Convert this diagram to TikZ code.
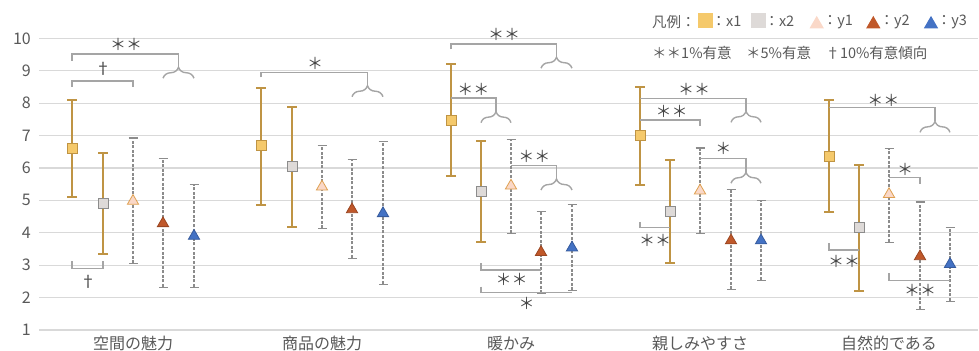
\documentclass[tikz,border=0pt]{standalone}
\usepackage{fontspec}
\setmainfont{Noto Sans CJK JP}
\usetikzlibrary{shapes.geometric,arrows.meta,decorations.pathreplacing}
\definecolor{testo}{HTML}{595959}
\definecolor{scuro}{HTML}{454545}
\definecolor{griglia}{HTML}{D9D9D9}
\definecolor{oro}{HTML}{BF9444}
\definecolor{giallo}{HTML}{F5C96B}
\definecolor{grigiochiaro}{HTML}{DEDAD8}
\definecolor{grigioscuro}{HTML}{8C8C8C}
\definecolor{rosa}{HTML}{FAD8C8}
\definecolor{arancio}{HTML}{DFA050}
\definecolor{ruggine}{HTML}{C0582A}
\definecolor{blu}{HTML}{4472C4}
\definecolor{linea}{HTML}{A5A5A5}

\begin{document}
\begin{tikzpicture}[x=1pt,y=32.4pt,font=\fontsize{16}{19}\selectfont,
    grid/.style={griglia,line width=1.3pt},
    valore/.style={testo,anchor=east,inner sep=0pt,xshift=-7.5pt},
    barX/.style={oro,line width=2pt,arrows={Bar[width=10pt]-Bar[width=10pt]}},
    barY/.style={grigioscuro,line width=1.3pt,dash pattern=on 3pt off 1.6pt,
                 arrows={Bar[width=9pt]-Bar[width=9pt]}},
    mX1/.style={rectangle,draw=oro,fill=giallo,line width=1pt,minimum size=10pt,inner sep=0pt},
    mX2/.style={rectangle,draw=grigioscuro,fill=grigiochiaro,line width=1pt,minimum size=10pt,inner sep=0pt},
    mTri/.style={regular polygon,regular polygon sides=3,minimum size=13pt,inner sep=0pt,line width=0.8pt},
    mY1/.style={mTri,draw=arancio,fill=rosa},
    mY2/.style={mTri,draw=ruggine!80!black,fill=ruggine},
    mY3/.style={mTri,draw=blu!80!black,fill=blu},
    braccio/.style={linea,line width=1.4pt},
    graffa/.style={braccio,decorate,decoration={brace,amplitude=11pt}},
    segno/.style={scuro,inner sep=0pt},
    leg/.style={testo,anchor=west,inner sep=0pt,font=\fontsize{14.5}{16}\selectfont},
    legQ/.style={rectangle,minimum size=14.5pt,inner sep=0pt},
    legT/.style={regular polygon,regular polygon sides=3,minimum size=16.5pt,inner sep=0pt}]
  \useasboundingbox (0,0.352) rectangle (979,11.185);
  % griglia e valori dell'asse
  \draw[grid] (39,1) node[valore] (v1) {1} -- (978,1);
  \draw[grid] (39,2) node[valore] (v2) {2} -- (978,2);
  \draw[grid] (39,3) node[valore] (v3) {3} -- (978,3);
  \draw[grid] (39,4) node[valore] (v4) {4} -- (978,4);
  \draw[grid] (39,5) node[valore] (v5) {5} -- (978,5);
  \draw[grid] (39,6) node[valore] (v6) {6} -- (978,6);
  \draw[grid] (39,7) node[valore] (v7) {7} -- (978,7);
  \draw[grid] (39,8) node[valore] (v8) {8} -- (978,8);
  \draw[grid] (39,9) node[valore] (v9) {9} -- (978,9);
  \draw[grid] (39,10) node[valore] (v10) {10} -- (978,10);
  % categorie
  \node[testo] (c1) at (133,0.59) {空間の魅力};
  \node[testo] (c2) at (322,0.59) {商品の魅力};
  \node[testo] (c3) at (511,0.59) {暖かみ};
  \node[testo] (c4) at (700,0.59) {親しみやすさ};
  \node[testo] (c5) at (889,0.59) {自然的である};
  % barre d'errore
  \draw[barX] (72,5.06) -- (72,8.14);   % 空間の魅力
  \draw[barX] (103,3.31) -- (103,6.49);
  \draw[barY] (133,3.03) -- (133,6.95);
  \draw[barY] (163,2.30) -- (163,6.31);
  \draw[barY] (194,2.30) -- (194,5.52);
  \draw[barX] (261,4.84) -- (261,8.51); % 商品の魅力
  \draw[barX] (292,4.15) -- (292,7.92);
  \draw[barY] (322,4.11) -- (322,6.72);
  \draw[barY] (352,3.19) -- (352,6.28);
  \draw[barY] (383,2.39) -- (383,6.83);
  \draw[barX] (451,5.71) -- (451,9.23); % 暖かみ
  \draw[barX] (481,3.70) -- (481,6.86);
  \draw[barY] (511,3.96) -- (511,6.90);
  \draw[barY] (541,2.10) -- (541,4.67);
  \draw[barY] (572,2.20) -- (572,4.90);
  \draw[barX] (640,5.43) -- (640,8.52); % 親しみやすさ
  \draw[barX] (670,3.05) -- (670,6.28);
  \draw[barY] (700,3.95) -- (700,6.64);
  \draw[barY] (731,2.23) -- (731,5.35);
  \draw[barY] (761,2.51) -- (761,5.02);
  \draw[barX] (829,4.60) -- (829,8.13); % 自然的である
  \draw[barX] (859,2.16) -- (859,6.12);
  \draw[barY] (889,3.69) -- (889,6.62);
  \draw[barY] (920,1.62) -- (920,4.97);
  \draw[barY] (950,1.87) -- (950,4.19);
  % medie
  \node[mX1] (a1) at (72,6.61) {};
  \node[mX2] (a2) at (103,4.91) {};
  \node[mY1] (a3) at (133,4.98) {};
  \node[mY2] (a4) at (163,4.29) {};
  \node[mY3] (a5) at (194,3.90) {};
  \node[mX1] (b1) at (261,6.68) {};
  \node[mX2] (b2) at (292,6.04) {};
  \node[mY1] (b3) at (322,5.42) {};
  \node[mY2] (b4) at (352,4.72) {};
  \node[mY3] (b5) at (383,4.60) {};
  \node[mX1] (d1) at (451,7.46) {};
  \node[mX2] (d2) at (481,5.28) {};
  \node[mY1] (d3) at (511,5.45) {};
  \node[mY2] (d4) at (541,3.40) {};
  \node[mY3] (d5) at (572,3.54) {};
  \node[mX1] (e1) at (640,6.99) {};
  \node[mX2] (e2) at (670,4.67) {};
  \node[mY1] (e3) at (700,5.30) {};
  \node[mY2] (e4) at (731,3.76) {};
  \node[mY3] (e5) at (761,3.76) {};
  \node[mX1] (f1) at (829,6.37) {};
  \node[mX2] (f2) at (859,4.17) {};
  \node[mY1] (f3) at (889,5.19) {};
  \node[mY2] (f4) at (920,3.27) {};
  \node[mY3] (f5) at (950,3.03) {};
  % 空間の魅力: confronti
  \draw[braccio] (72,9.31) |- (178.5,9.52) -- (178.5,9.11);
  \draw[graffa] (163,8.77) -- (194,8.77);
  \node[segno] (s1) at (126,9.80) {＊＊};
  \draw[braccio] (72,8.51) |- (133,8.69) -- (133,8.51);
  \node[segno] (s2) at (103,9.06) {†};
  \draw[braccio] (72,3.12) |- (103,2.90) -- (103,3.12);
  \node[segno] (s3) at (88,2.49) {†};
  % 商品の魅力
  \draw[braccio] (261,8.80) |- (367.5,8.95) -- (367.5,8.54);
  \draw[graffa] (352,8.20) -- (383,8.20);
  \node[segno] (s4) at (315,9.23) {＊};
  % 暖かみ
  \draw[braccio] (451,9.66) |- (556.5,9.83) -- (556.5,9.42);
  \draw[graffa] (541,9.08) -- (572,9.08);
  \node[segno] (s5) at (504,10.13) {＊＊};
  \draw[braccio] (451,8.16) -- (496,8.16) -- (496,7.74);
  \draw[graffa] (481,7.40) -- (511,7.40);
  \node[segno] (s6) at (473.3,8.41) {＊＊};
  \draw[braccio] (511,6.07) -- (556.5,6.07) -- (556.5,5.66);
  \draw[graffa] (541,5.32) -- (572,5.32);
  \node[segno] (s7) at (534.3,6.35) {＊＊};
  \draw[braccio] (481,3.06) |- (541,2.85);
  \node[segno] (s8) at (511.7,2.56) {＊＊};
  \draw[braccio] (481,2.34) |- (572,2.16);
  \node[segno] (s9) at (526.7,1.82) {＊};
  % 親しみやすさ
  \draw[braccio] (640,8.15) -- (746,8.15) -- (746,7.75);
  \draw[graffa] (731,7.41) -- (761,7.41);
  \node[segno] (s10) at (694,8.43) {＊＊};
  \draw[braccio] (640,7.48) -- (700,7.48) -- (700,7.30);
  \node[segno] (s11) at (671.7,7.74) {＊＊};
  \draw[braccio] (700,6.30) -- (746,6.30) -- (746,5.87);
  \draw[graffa] (731,5.53) -- (761,5.53);
  \node[segno] (s12) at (723.3,6.59) {＊};
  \draw[braccio] (640,4.34) |- (670,4.16);
  \node[segno] (s13) at (655,3.78) {＊＊};
  % 自然的である
  \draw[braccio] (829,7.87) -- (935,7.87) -- (935,7.44);
  \draw[graffa] (920,7.10) -- (950,7.10);
  \node[segno] (s14) at (883.3,8.10) {＊＊};
  \draw[braccio] (889,5.70) -- (920,5.70) -- (920,5.51);
  \node[segno] (s15) at (905,5.96) {＊};
  \draw[braccio] (829,3.68) |- (859,3.47);
  \node[segno] (s16) at (844,3.11) {＊＊};
  \draw[braccio] (889,2.75) |- (950,2.53);
  \node[segno] (s17) at (920,2.21) {＊＊};
  % legenda
  \node[leg] (l0) at (652,10.515) {凡例：};
  \node[legQ,fill=giallo] (q1) at (705.5,10.547) {};
  \node[leg] (l1) at (711.5,10.515) {：x1};
  \node[legQ,fill=grigiochiaro] (q2) at (758.3,10.547) {};
  \node[leg] (l2) at (764.3,10.515) {：x2};
  \node[legT,fill=rosa] (q3) at (816.7,10.44) {};
  \node[leg] (l3) at (822.7,10.515) {：y1};
  \node[legT,fill=ruggine] (q4) at (873.3,10.44) {};
  \node[leg] (l4) at (879.3,10.515) {：y2};
  \node[legT,fill=blu] (q5) at (931,10.44) {};
  \node[leg] (l5) at (936.7,10.515) {：y3};
  \node[leg] (l6) at (652,9.54) {＊＊1\%有意　＊5\%有意　†10\%有意傾向};
\end{tikzpicture}
\end{document}
